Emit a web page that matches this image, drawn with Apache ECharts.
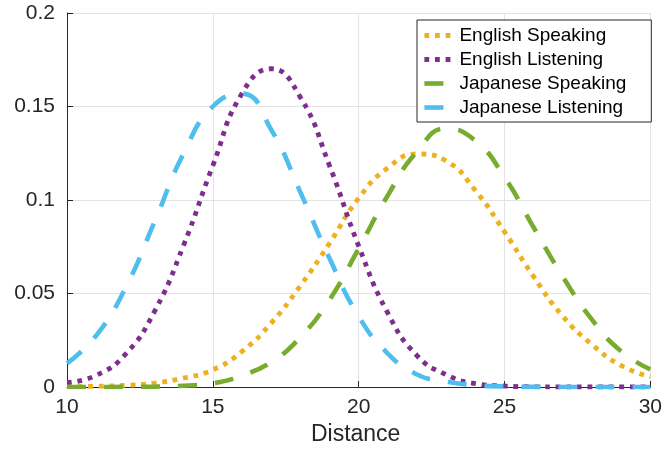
<!DOCTYPE html>
<html>
<head>
<meta charset="utf-8">
<script src="https://cdn.jsdelivr.net/npm/echarts@6/dist/echarts.min.js"></script>
<style>
html,body{margin:0;padding:0;background:#fff;}
#chart{width:665px;height:451px;}
</style>
</head>
<body>
<div id="chart"></div>
<script>
var distance = [10, 11, 12, 13, 14, 15, 16, 17, 18, 19, 20, 21, 22, 23, 24, 25, 26, 27, 28, 29, 30];
var englishSpeaking = [0.0002, 0.0004, 0.0009, 0.0021, 0.0048, 0.0092, 0.0190, 0.0342, 0.0541, 0.0768, 0.1010, 0.1172, 0.1246, 0.1209, 0.1051, 0.0830, 0.0590, 0.0378, 0.0227, 0.0115, 0.0055];
var englishListening = [0.0023, 0.0062, 0.0174, 0.0404, 0.0759, 0.1184, 0.1570, 0.1702, 0.1550, 0.1184, 0.0754, 0.0395, 0.0168, 0.0066, 0.0018, 0.0005, 0.0001, 0, 0, 0, 0];
var japaneseSpeaking = [0, 0, 0.0001, 0.0002, 0.0007, 0.0020, 0.0062, 0.0133, 0.0266, 0.0466, 0.0741, 0.1025, 0.1259, 0.1382, 0.1317, 0.1122, 0.0853, 0.0590, 0.0360, 0.0191, 0.0094];
var japaneseListening = [0.0126, 0.0275, 0.0528, 0.0883, 0.1250, 0.1500, 0.1569, 0.1376, 0.1042, 0.0688, 0.0378, 0.0179, 0.0067, 0.0030, 0.0010, 0.0003, 0.0001, 0, 0, 0, 0];
var seriesNames = ['English Speaking', 'English Listening', 'Japanese Speaking', 'Japanese Listening'];
var xTicks = [10, 15, 20, 25, 30];
var yTicks = [0, 0.05, 0.1, 0.15, 0.2];

var FONT = '"Liberation Sans", Arial, Helvetica, sans-serif';
var TXT = '#262626';

function pairs(ys) { return distance.map(function (x, i) { return [x, ys[i]]; }); }

var styles = [
  { color: '#EDB120', type: [4.8, 5.8], width: 4.8 },
  { color: '#7E2F8E', type: [4.8, 5.8], width: 4.8 },
  { color: '#77AC30', type: [19, 18], width: 4.6 },
  { color: '#4DBEEE', type: [19, 18], width: 4.6 }
];
var allData = [englishSpeaking, englishListening, japaneseSpeaking, japaneseListening];

var chart = echarts.init(document.getElementById('chart'), null, { renderer: 'canvas' });
chart.setOption({
  animation: false,
  backgroundColor: '#fff',
  textStyle: { fontFamily: FONT },
  grid: { left: 67, right: 12, top: 13, bottom: 62 },
  xAxis: {
    type: 'value',
    min: xTicks[0], max: xTicks[xTicks.length - 1], interval: 5,
    name: 'Distance', nameLocation: 'middle', nameGap: 36,
    nameTextStyle: { fontSize: 23, color: TXT, fontFamily: FONT, padding: [0, 6, 0, 0] },
    axisLine: { show: true, lineStyle: { color: TXT, width: 1 } },
    axisTick: { show: true, inside: true, length: 6, lineStyle: { color: TXT } },
    axisLabel: { fontSize: 21, color: TXT, margin: 10, fontFamily: FONT },
    splitLine: { show: true, lineStyle: { color: '#e3e3e3', width: 1 } }
  },
  yAxis: {
    type: 'value',
    min: yTicks[0], max: yTicks[yTicks.length - 1], interval: 0.05,
    axisLine: { show: true, lineStyle: { color: TXT, width: 1 } },
    axisTick: { show: true, inside: true, length: 6, lineStyle: { color: TXT } },
    axisLabel: { fontSize: 21, color: TXT, margin: 12, fontFamily: FONT },
    splitLine: { show: true, lineStyle: { color: '#e3e3e3', width: 1 } }
  },
  legend: {
    orient: 'vertical',
    left: 417, top: 20,
    data: seriesNames.map(function (name, i) {
      return {
        name: name,
        lineStyle: { color: styles[i].color, width: styles[i].width, type: styles[i].type, cap: 'butt' }
      };
    }),
    itemWidth: 26, itemHeight: 14, itemGap: 5,
    padding: [6, 25, 5, 5],
    backgroundColor: '#fff',
    borderColor: TXT, borderWidth: 1, borderRadius: 0,
    itemStyle: { color: 'rgba(0,0,0,0)', borderWidth: 0, opacity: 0 },
    textStyle: { fontSize: 19, color: '#000', fontFamily: FONT, lineHeight: 19, padding: [0, 0, 0, 4] }
  },
  series: seriesNames.map(function (name, i) {
    return {
      name: name,
      type: 'line',
      data: pairs(allData[i]),
      smooth: 0.5,
      symbol: 'none',
      showSymbol: false,
      lineStyle: styles[i],
      itemStyle: { color: styles[i].color },
      emphasis: { disabled: true },
      z: 2 + i
    };
  })
});
</script>
</body>
</html>
